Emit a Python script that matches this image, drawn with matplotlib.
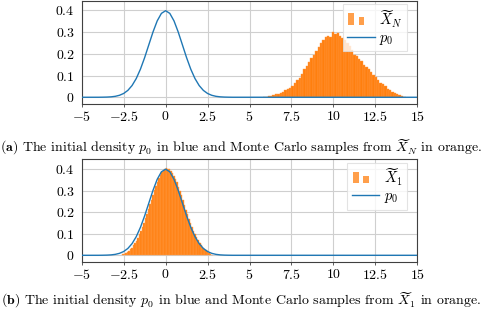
import numpy as np
import matplotlib.pyplot as plt
from matplotlib.legend_handler import HandlerBase
from matplotlib.patches import Rectangle

plt.rcParams['font.family'] = 'cmr10'
plt.rcParams['mathtext.fontset'] = 'cm'
plt.rcParams['axes.unicode_minus'] = True

# initial density p0 (standard normal)
p0_x = [-5, -4, -3.75, -3.5, -3.25, -3, -2.75, -2.5, -2.25, -2, -1.75, -1.5, -1.25, -1,
        -0.75, -0.5, -0.25, 0, 0.25, 0.5, 0.75, 1, 1.25, 1.5, 1.75, 2, 2.25, 2.5,
        2.75, 3, 3.25, 3.5, 3.75, 4, 15]
p0_y = [0, 0.0001, 0.0004, 0.0009, 0.0020, 0.0044, 0.0091, 0.0175, 0.0317, 0.0540,
        0.0863, 0.1295, 0.1826, 0.2420, 0.3011, 0.3521, 0.3867, 0.3989, 0.3867,
        0.3521, 0.3011, 0.2420, 0.1826, 0.1295, 0.0863, 0.0540, 0.0317, 0.0175,
        0.0091, 0.0044, 0.0020, 0.0009, 0.0004, 0.0001, 0]

# Monte Carlo histogram of X_N (top panel)
hist_n_range = (5.8, 14.3)
hist_n = [0.002, 0.003, 0.004, 0.006, 0.010, 0.014, 0.016, 0.020, 0.026, 0.032,
          0.037, 0.045, 0.052, 0.064, 0.078, 0.090, 0.108, 0.128, 0.146, 0.162,
          0.180, 0.196, 0.214, 0.232, 0.252, 0.262, 0.276, 0.282, 0.278, 0.300,
          0.292, 0.296, 0.282, 0.272, 0.262, 0.248, 0.238, 0.218, 0.196, 0.188,
          0.176, 0.166, 0.150, 0.140, 0.128, 0.116, 0.104, 0.094, 0.080, 0.068,
          0.060, 0.050, 0.040, 0.032, 0.026, 0.020, 0.014, 0.010, 0.006, 0.003]

# Monte Carlo histogram of X_1 (bottom panel)
hist_1_range = (-2.6, 2.8)
hist_1 = [0.004, 0.006, 0.010, 0.014, 0.022, 0.028, 0.036, 0.046, 0.056, 0.068,
          0.082, 0.098, 0.114, 0.132, 0.150, 0.172, 0.192, 0.214, 0.236, 0.258,
          0.280, 0.302, 0.320, 0.340, 0.356, 0.372, 0.384, 0.392, 0.398, 0.404,
          0.402, 0.398, 0.392, 0.382, 0.368, 0.352, 0.338, 0.318, 0.298, 0.278,
          0.256, 0.234, 0.212, 0.190, 0.170, 0.150, 0.132, 0.114, 0.098, 0.084,
          0.070, 0.058, 0.046, 0.036, 0.030, 0.026, 0.020, 0.012, 0.006, 0.003]

x_ticks = [-5, -2.5, 0, 2.5, 5, 7.5, 10, 12.5, 15]
x_ticklabels = ['$-5$', '$-2.5$', '$0$', '$2.5$', '$5$', '$7.5$', '$10$', '$12.5$', '$15$']
y_ticks = [0, 0.1, 0.2, 0.3, 0.4]
y_ticklabels = ['$0$', '$0.1$', '$0.2$', '$0.3$', '$0.4$']

captions = [r'$\mathbf{(a)}$ The initial density $p_0$ in blue and Monte Carlo samples from $\widetilde{X}_N$ in orange.',
            r'$\mathbf{(b)}$ The initial density $p_0$ in blue and Monte Carlo samples from $\widetilde{X}_1$ in orange.']
hist_labels = [r'$\widetilde{X}_N$', r'$\widetilde{X}_1$']

BLUE = '#1f77b4'
ORANGE = '#ff7f0e'


class TwoBars(HandlerBase):
    # pgfplots style ybar legend image
    def create_artists(self, legend, orig_handle, xdescent, ydescent, width, height, fontsize, trans):
        w = width * 0.2
        r1 = Rectangle((-xdescent + width * 0.05, -ydescent + height * 0.05), w, height * 1.15,
                       facecolor=ORANGE, alpha=0.75, edgecolor='none', transform=trans)
        r2 = Rectangle((-xdescent + width * 0.42, -ydescent + height * 0.05), w, height * 0.75,
                       facecolor=ORANGE, alpha=0.75, edgecolor='none', transform=trans)
        return [r1, r2]


fig = plt.figure(figsize=(4.82, 3.14), dpi=100)
ax_a = fig.add_axes([0.1695, 0.6688, 0.6963, 0.3296])
ax_b = fig.add_axes([0.1695, 0.1656, 0.6963, 0.3280])

for ax, heights, rng, lab, cap, cy in [(ax_a, hist_n, hist_n_range, hist_labels[0], captions[0], 0.531),
                                       (ax_b, hist_1, hist_1_range, hist_labels[1], captions[1], 0.045)]:
    edges = np.linspace(rng[0], rng[1], len(heights) + 1)
    bars = ax.bar(edges[:-1], heights, width=edges[1] - edges[0], align='edge',
                  color=ORANGE, edgecolor='#ff9a45', linewidth=0.3, zorder=2)
    line, = ax.plot(p0_x, p0_y, color=BLUE, lw=1.0, zorder=3)
    ax.set_xlim(-5, 15)
    ax.set_ylim(-0.031, 0.446)
    ax.set_xticks(x_ticks)
    ax.set_xticklabels(x_ticklabels)
    ax.set_yticks(y_ticks)
    ax.set_yticklabels(y_ticklabels)
    ax.tick_params(axis='x', direction='out', length=2.5, width=0.6, colors='#404040',
                   labelcolor='black', labelsize=10, pad=2)
    ax.tick_params(axis='y', length=0, labelsize=10, pad=5)
    ax.grid(True, color='#cfcfcf', lw=0.8, zorder=0)
    ax.set_axisbelow(True)
    for s in ax.spines.values():
        s.set_color('#404040')
        s.set_linewidth(0.8)
    leg = ax.legend([bars, line], [lab, r'$p_0$'], handler_map={type(bars): TwoBars()},
                    loc='upper right', bbox_to_anchor=(0.97, 0.965), borderaxespad=0,
                    fontsize=10.5, frameon=True, fancybox=False,
                    framealpha=0.8, edgecolor='#dddddd',
                    handlelength=1.9, handletextpad=0.3, borderpad=0.3, labelspacing=0.1)
    leg.get_frame().set_linewidth(0.8)
    fig.text(0.5, cy, cap, ha='center', va='center', fontsize=10)

fig.savefig('out.png', dpi=100)
